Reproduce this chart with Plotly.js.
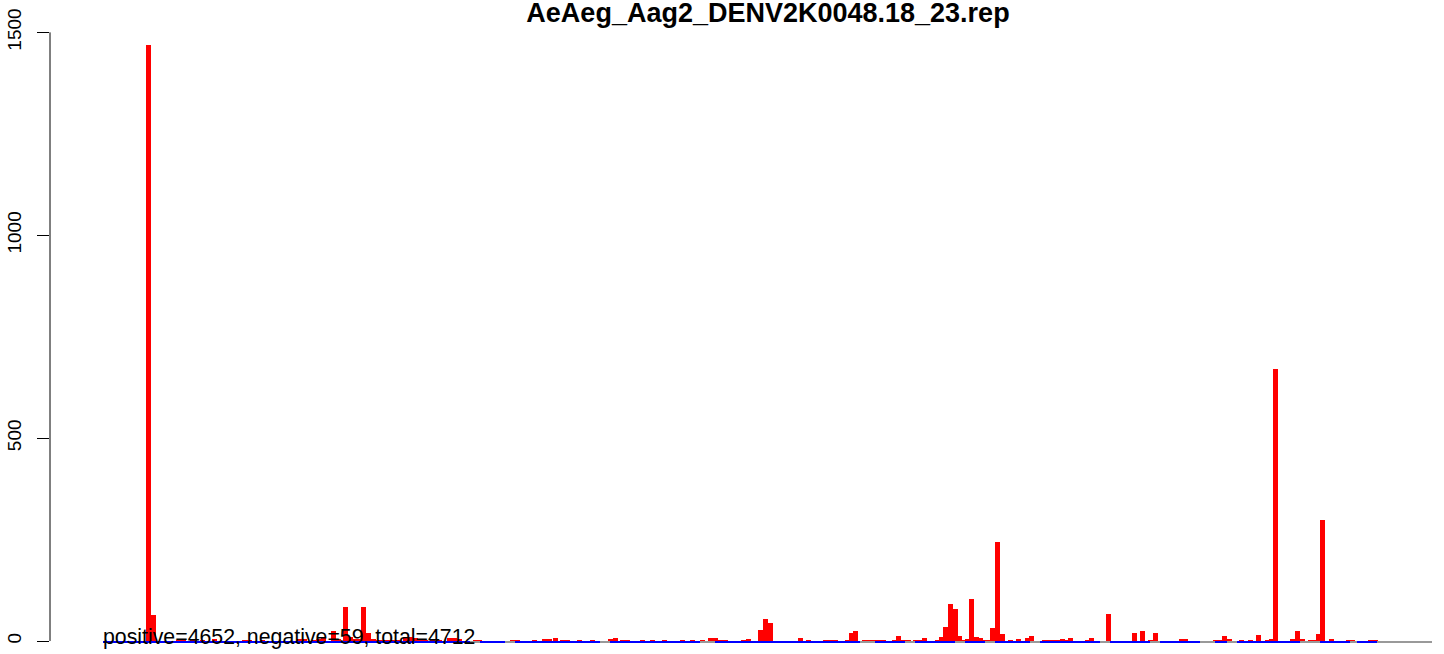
<!DOCTYPE html>
<html>
<head>
<meta charset="utf-8">
<script src="https://cdn.plot.ly/plotly-3.0.1.min.js"></script>
<style>html,body{margin:0;padding:0;background:#fff;}#chart{width:1444px;height:654px;}</style>
</head>
<body>
<div id="chart"></div>
<script>
// ---- data ----
const chartTitle = "AeAeg_Aag2_DENV2K0048.18_23.rep";
const genomeLength = 10723;
const positiveReads = 4652;
const negativeReads = 59;
const totalReads = 4712;

// positive-strand bars: start position and read count
const plusPos = [347,387,589,629,702,783,879,1122,1162,1267,1565,1606,1678,1719,1759,1840,1880,1936,1977,2017,2049,2082,2122,2162,2203,2243,2283,2324,2364,2421,2461,2501,2542,2582,2638,2695,2776,2816,2856,2985,3018,3284,3324,3461,3542,3582,3631,3687,3728,3824,3929,4075,4115,4171,4212,4333,4413,4510,4656,4736,4817,4881,4922,4962,5002,5148,5188,5285,5325,5366,5608,5672,5809,5850,5890,5987,6019,6051,6124,6164,6205,6245,6277,6366,6398,6439,6479,6535,6576,6608,6713,6745,6778,6818,6858,6891,6923,6955,6987,7028,7060,7100,7133,7157,7197,7237,7302,7367,7439,7471,7576,7617,7649,7681,7722,7754,7786,7923,7956,8093,8302,8367,8432,8472,8682,8714,8956,8996,9029,9069,9166,9238,9303,9376,9408,9440,9577,9618,9658,9723,9755,9787,9820,9892,10029,10061,10207,10247];
const plusCount = [1468,64,3,3,5,3,5,3,3,2,4,4,3,5,8,24,6,83,10,6,5,84,19,5,3,3,2,2,2,9,9,8,4,3,4,2,8,8,5,3,2,2,3,2,6,6,8,2,2,2,2,6,8,2,2,3,2,3,2,2,2,7,8,2,2,2,6,28,54,44,8,3,2,2,2,3,20,25,3,3,3,3,3,3,12,3,3,3,3,7,3,10,34,91,79,12,3,5,103,10,8,2,2,32,244,17,3,5,8,12,2,2,2,3,5,2,7,2,7,67,20,25,2,20,5,5,2,3,12,5,2,3,15,3,5,670,5,25,5,3,3,17,298,5,3,3,2,2];

// negative-strand stretches (start, end) and depth
const minusStart = [0,3042,3324,4091,4938,6229,6552,6955,7197,7560,8125,8529,8973,9150,9820,10118];
const minusEnd   = [2961,3244,4010,4817,6108,6471,6874,7117,7480,8044,8448,8852,9069,9658,10061,10279];
const minusDepth = [-5,-5,-5,-5,-5,-5,-5,-5,-5,-5,-5,-5,-5,-5,-5,-5];

const yTicks = [0, 500, 1000, 1500];
const yTickText = ["0", "500", "1000", "1500"];

// ---- chart ----
const binWidth = 40;
const FONT = "Liberation Sans, Arial, Helvetica, sans-serif";

const traces = [
  { type: "bar", x: [0], y: [minusDepth[0]], width: [genomeLength], offset: 0,
    marker: { color: "#999999", line: { width: 0 } }, hoverinfo: "skip" },
  { type: "bar", x: minusStart, y: minusDepth,
    width: minusStart.map((s, i) => minusEnd[i] - s), offset: 0,
    marker: { color: "#0000ff", line: { width: 0 } }, hoverinfo: "skip" },
  { type: "bar", x: plusPos, y: plusCount, width: binWidth, offset: 0,
    marker: { color: "#ff0000", line: { width: 0 } }, hoverinfo: "skip" }
];

const pxPerUnitX = 1329 / genomeLength;
const layout = {
  width: 1444, height: 654,
  margin: { l: 50, r: 0, t: 21, b: 0, pad: 0 },
  paper_bgcolor: "#ffffff", plot_bgcolor: "#ffffff",
  showlegend: false,
  barmode: "overlay",
  bargap: 0,
  title: { text: "<b>" + chartTitle + "</b>", font: { family: FONT, size: 27, color: "#000" },
           xref: "container", x: 768 / 1444, xanchor: "center",
           yref: "container", y: 0.995, yanchor: "top" },
  xaxis: { range: [-(103 - 50) / pxPerUnitX, genomeLength + (1444 - 1432) / pxPerUnitX],
           showgrid: false, zeroline: false, showline: false, showticklabels: false, ticks: "" },
  yaxis: { range: [-32, 1528], showgrid: false, zeroline: false, showline: false,
           tickmode: "array", tickvals: yTicks, ticktext: yTickText,
           ticks: "outside", ticklen: 12, tickwidth: 1, tickcolor: "#000",
           ticklabelstandoff: 8,
           tickangle: -90, tickfont: { family: FONT, size: 19, color: "#000" } },
  shapes: [
    { type: "line", xref: "paper", yref: "y", x0: 0, x1: 0,
      y0: yTicks[0], y1: yTicks[yTicks.length - 1], line: { color: "#000", width: 1 } }
  ],
  annotations: [
    { xref: "x", yref: "y", x: 0, y: 0, xanchor: "left", yanchor: "middle",
      showarrow: false, xshift: -2, yshift: 4,
      text: "positive=" + positiveReads + ", negative=" + negativeReads + ", total=" + totalReads,
      font: { family: FONT, size: 21.3, color: "#000" } }
  ]
};

Plotly.newPlot("chart", traces, layout, { staticPlot: true, displayModeBar: false });
</script>
</body>
</html>
